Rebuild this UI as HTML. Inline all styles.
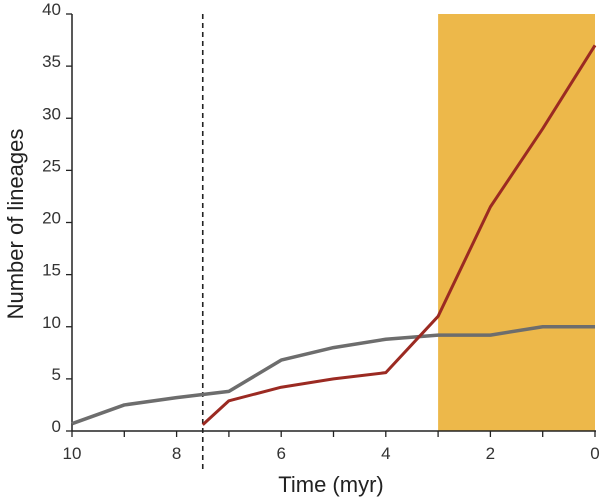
<!DOCTYPE html>
<html><head><meta charset="utf-8"><style>
html,body{margin:0;padding:0;background:#fff;}
svg{display:block;font-family:"Liberation Sans",Arial,sans-serif;}
</style></head><body>
<svg id="chart" width="600" height="499"></svg>
<script>
const times = [10,9,8,7,6,5,4,3,2,1,0];
const grayValues = [0.7,2.5,3.2,3.8,6.8,8.0,8.8,9.2,9.2,10,10];
const redTimes = [7.5,7,6,5,4,3,2,1,0];
const redValues = [0.6,2.9,4.2,5.0,5.6,11,21.5,29,37];
const yTicks = [0,5,10,15,20,25,30,35,40];
const xTickLabels = [10,8,6,4,2,0];
const shadeRange = [3,0];
const dashedTime = [7.5];

const NS = "http://www.w3.org/2000/svg";
const svg = document.getElementById('chart');
const X0=72, X1=595, Y0=431, Y1=14;
const xs = t => X0 + (10 - t) * (X1 - X0) / 10;
const ys = v => Y0 - v * (Y0 - Y1) / 40;
function mk(tag, attrs, parent){ const e=document.createElementNS(NS,tag); for(const k in attrs) e.setAttribute(k, attrs[k]); (parent||svg).appendChild(e); return e; }

const shade = mk('rect',{x:xs(shadeRange[0]),y:Y1,width:xs(shadeRange[1])-xs(shadeRange[0]),height:Y0-Y1,fill:'#EDB84A'});



const dash = mk('line',{x1:xs(dashedTime[0]),x2:xs(dashedTime[0]),y1:Y1,y2:470,stroke:'#222','stroke-width':1.6,'stroke-dasharray':'5,4'});



const yAxis = mk('line',{x1:X0,x2:X0,y1:Y1,y2:Y0,stroke:'#222','stroke-width':1.5});


const xAxis = mk('line',{x1:X0,x2:X1+1,y1:Y0,y2:Y0,stroke:'#222','stroke-width':1.5});



yTicks.forEach(v=>{
  const t = mk('line',{x1:X0-6,x2:X0,y1:ys(v),y2:ys(v),stroke:'#222','stroke-width':1.3});
  
  
  const l = mk('text',{x:X0-11,y:ys(v)+1,'text-anchor':'end','font-size':17,fill:'#333'});
  l.textContent = v;
  
  
});
times.forEach(tm=>{
  const t = mk('line',{x1:xs(tm),x2:xs(tm),y1:Y0,y2:Y0+6,stroke:'#222','stroke-width':1.3});
  
  
});
xTickLabels.forEach(tm=>{
  const l = mk('text',{x:xs(tm),y:459,'text-anchor':'middle','font-size':17,fill:'#333'});
  l.textContent = tm;
  
  
});

const gp = mk('polyline',{points:times.map((t,i)=>xs(t)+','+ys(grayValues[i])).join(' '),fill:'none',stroke:'#6d6d6d','stroke-width':3.5,'stroke-linejoin':'round'});


const rp = mk('polyline',{points:redTimes.map((t,i)=>xs(t)+','+ys(redValues[i])).join(' '),fill:'none',stroke:'#9b2a22','stroke-width':3,'stroke-linejoin':'round'});



const xt = mk('text',{x:331,y:492,'text-anchor':'middle','font-size':22,fill:'#222'});
xt.textContent='Time (myr)';


const yt = mk('text',{x:0,y:0,'text-anchor':'middle','font-size':22,fill:'#222',transform:'translate(23,224) rotate(-90)'});
yt.textContent='Number of lineages';


</script>
</body></html>
